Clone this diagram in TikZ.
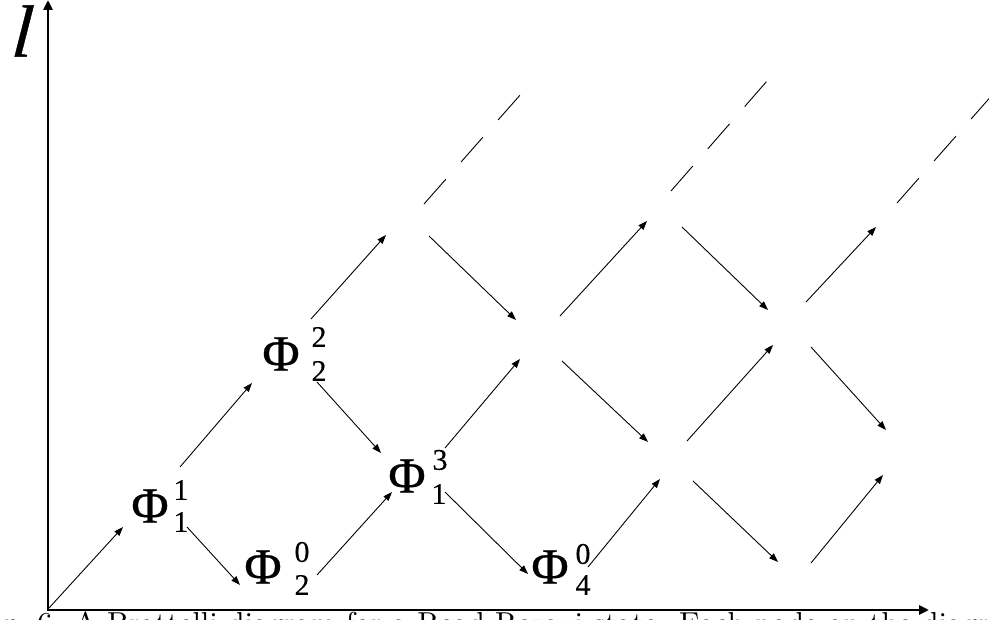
\documentclass[tikz,border=0pt]{standalone}
\usepackage{fontspec}
\usepackage{graphicx}
\newfontfamily\tnr[FakeBold=0.3]{Liberation Serif}
\newfontfamily\tnrb[FakeBold=0.6]{Liberation Serif}
\newfontfamily\lfont[FakeBold=0.5,FakeSlant=0.08]{Liberation Serif}
\usetikzlibrary{arrows.meta}
\begin{document}
\begin{tikzpicture}[x=1pt,y=-1pt,
  arr/.style={line width=0.9pt,-{Triangle[length=9pt,width=6.5pt]}},
  axisline/.style={line width=2.6pt,-{Triangle[length=10pt,width=9pt]}},
  dsh/.style={line width=0.9pt,dash pattern=on 33pt off 23pt},
  phi/.style={font=\tnrb\fontsize{51}{51}\selectfont,inner sep=0pt},
  idx/.style={font=\tnr\fontsize{30}{30}\selectfont,inner sep=0pt}]
\useasboundingbox (0,0) rectangle (989,620);

% axes
\coordinate (O) at (48,610);
\coordinate (Oy) at (48,611.3);
\coordinate (ytip) at (48,0);
\coordinate (xtip) at (929,610);
\draw[axisline] (Oy) -- (ytip);
\draw[axisline] (O) -- (xtip);
\node[font=\lfont\itshape\fontsize{74}{74}\selectfont,inner sep=0pt] (lab) at (21,31) {l};

% Phi nodes
\node[phi] (p11) at (150,506) {Φ};
\node[idx] (p11u) at (181,490) {1};
\node[idx] (p11d) at (181,522) {1};
\node[phi] (p22) at (281,354) {Φ};
\node[idx] (p22u) at (319,337) {2};
\node[idx] (p22d) at (319,371) {2};
\node[phi] (p02) at (263,567) {Φ};
\node[idx] (p02u) at (302,552) {0};
\node[idx] (p02d) at (302,585) {2};
\node[phi] (p31) at (407,476) {Φ};
\node[idx] (p31u) at (440,460) {3};
\node[idx] (p31d) at (439,494) {1};
\node[phi] (p04) at (550,567) {Φ};
\node[idx] (p04u) at (583,554) {0};
\node[idx] (p04d) at (583,585) {4};

% connector end points
\coordinate (a1s) at (49,608);  \coordinate (a1e) at (123,527);
\coordinate (a2s) at (180,467); \coordinate (a2e) at (252,383);
\coordinate (a3s) at (187,527); \coordinate (a3e) at (240,585);
\coordinate (a4s) at (311,319); \coordinate (a4e) at (386,235);
\coordinate (a5s) at (317,382); \coordinate (a5e) at (381,453);
\coordinate (a6s) at (317,575); \coordinate (a6e) at (392,492);
\coordinate (a7s) at (445,448); \coordinate (a7e) at (520,359);
\coordinate (a8s) at (445,492); \coordinate (a8e) at (528,574);
\coordinate (a9s) at (429,236); \coordinate (a9e) at (516,320);
\coordinate (a10s) at (560,316); \coordinate (a10e) at (647,221);
\coordinate (a11s) at (562,361); \coordinate (a11e) at (648,442);
\coordinate (a12s) at (588,567); \coordinate (a12e) at (660,479);
\coordinate (a13s) at (682,227); \coordinate (a13e) at (768,310);
\coordinate (a14s) at (687,441); \coordinate (a14e) at (773,345);
\coordinate (a15s) at (693,481); \coordinate (a15e) at (778,562);
\coordinate (a16s) at (806,302); \coordinate (a16e) at (876,227);
\coordinate (a17s) at (811,347); \coordinate (a17e) at (886,430);
\coordinate (a18s) at (811,563); \coordinate (a18e) at (883,475);
\coordinate (d1s) at (424,204); \coordinate (d1e) at (521,94);
\coordinate (d2s) at (671,191); \coordinate (d2e) at (767,81);
\coordinate (d3s) at (897,203); \coordinate (d3e) at (994,93);

\foreach \i in {1,...,18} { \draw[arr] (a\i s) -- (a\i e); }
\foreach \i in {1,2,3} { \draw[dsh] (d\i s) -- (d\i e); }

% caption (cut by the page edge, as in the reference)
\node[anchor=north west,inner sep=0pt] (cap) at (0,612)
  {\resizebox{989pt}{!}{g. 6. A Brattelli diagram for a Read-Rezayi state. Each node on the diagr}};
\end{tikzpicture}
\end{document}
